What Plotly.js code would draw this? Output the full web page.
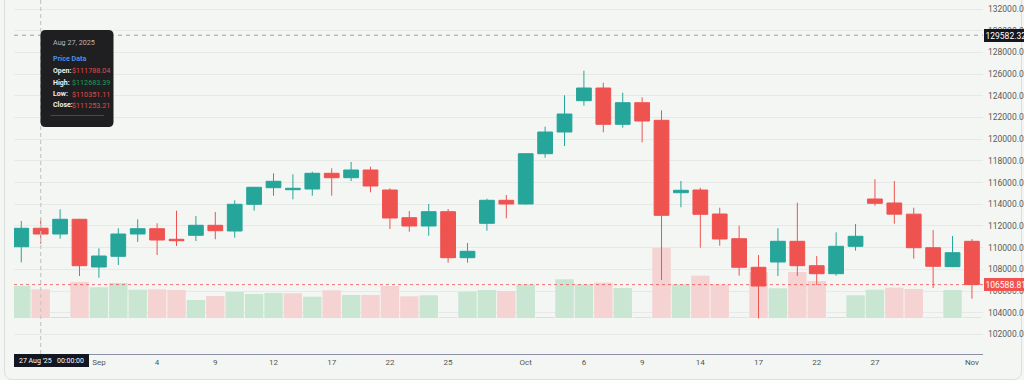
<!DOCTYPE html>
<html><head><meta charset="utf-8">
<script src="https://cdn.plot.ly/plotly-3.0.1.min.js"></script>
<style>
html,body{margin:0;padding:0;background:#f4f6f3;overflow:hidden;width:1024px;height:380px;}
#card{position:absolute;left:4px;top:-12px;width:1018px;height:392px;border:1px solid #dcdfdc;border-radius:8px;box-sizing:border-box;}
#chart{position:absolute;left:0;top:0;width:1024px;height:380px;}
</style></head><body>
<div id="card"></div>
<div id="chart"></div>
<script>
const dates = ['2025-08-26','2025-08-27','2025-08-28','2025-08-29',
'2025-09-01','2025-09-02','2025-09-03','2025-09-04','2025-09-05','2025-09-08','2025-09-09','2025-09-10','2025-09-11','2025-09-12',
'2025-09-15','2025-09-16','2025-09-17','2025-09-18','2025-09-19','2025-09-22','2025-09-23','2025-09-24','2025-09-25','2025-09-26',
'2025-09-29','2025-09-30','2025-10-01','2025-10-02','2025-10-03','2025-10-06','2025-10-07','2025-10-08','2025-10-09','2025-10-10',
'2025-10-13','2025-10-14','2025-10-15','2025-10-16','2025-10-17','2025-10-20','2025-10-21','2025-10-22','2025-10-23','2025-10-24',
'2025-10-27','2025-10-28','2025-10-29','2025-10-30','2025-10-31','2025-11-03'];
const open  = [110084,111788.04,111255,112610,108212,109199,111255,111744,110766,111135,112057,111532,113993,115524,115339,115404,116852,116446,117156,115312,112758,111993,113311,109070,112242,114362,114021,118659,120659,123545,124716,121369,123361,121738,115063,115312,113099,110822,108185,108673,110582,108332,107595,110121,114482,114113,113085,109992,108240,110582];
const high  = [112454,112683.39,113532,112650,109937,111781,112610,112242,113403,112915,113283,114362,115600,116852,116759,116999,117313,117893,117460,115469,113376,114021,113560,110425,114510,114851,118700,121148,124043,126311,125205,124283,123859,122660,116142,115524,113680,112020,109319,111781,114141,109227,111412,112177,116298,116142,113680,111624,111071,110794];
const low   = [108646,110351.11,110822,107383,107226,108397,110517,109319,110149,110610,110766,110914,113403,114786,114454,114786,114786,116142,115100,111716,111467,111098,108609,108609,111559,112703,113980,118290,119369,123084,120632,121056,119710,107014,113717,109992,110176,107410,103483,107383,107383,106553,107410,109715,113864,112205,108978,106276,108200,105290];
const close = [111781,111253.21,112610,108332,109227,111255,111744,110702,110637,112057,111559,113993,115561,116114,115469,116852,116446,117156,115681,112730,111993,113311,109070,109660,114362,114021,118659,120659,122319,124716,121369,123361,121674,112979,115284,113071,110794,108185,106461,110582,108332,107595,110121,111043,114086,113085,109992,108277,109531,106588.81];
const volume = [32000,28700,1000,36000,30700,35000,28300,28700,28000,18000,22000,26000,24000,25000,24700,21300,27700,23000,23000,32000,21700,22700,800,26300,28000,27000,33700,900,38700,33700,35300,30000,900,70300,33700,42300,33700,800,45700,29700,46000,37000,900,22700,28300,30300,29000,700,28000,800];
const tickDates = ['2025-09-01','2025-09-04','2025-09-09','2025-09-12','2025-09-17','2025-09-22','2025-09-25','2025-10-01','2025-10-06','2025-10-09','2025-10-14','2025-10-17','2025-10-22','2025-10-27','2025-11-03'];
const tickLabels = ['Sep','4','9','12','17','22','25','Oct','6','9','14','17','22','27','Nov'];
const crossPrice = 129582.32;
const crossIndex = 1;
const lastPrice = close[close.length-1];

const UP='#26a69a', DOWN='#ef5350';
const volColors = close.map((c,i)=> (i===0 || c>=close[i-1]) ? '#c8e6d1' : '#f6d3d3');

// pixel -> paper helpers (plot area x 14..983, y 0..354)
const PL=14, PR=983, PT=0, PB=354;
const px = x => (x-PL)/(PR-PL);
const py = y => (PB-y)/(PB-PT);
function roundRect(x0,y0,x1,y1,r){
  const P=(x,y)=>px(x)+','+py(y);
  return 'M'+P(x0+r,y0)+' L'+P(x1-r,y0)+' Q'+P(x1,y0)+' '+P(x1,y0+r)+
   ' L'+P(x1,y1-r)+' Q'+P(x1,y1)+' '+P(x1-r,y1)+' L'+P(x0+r,y1)+' Q'+P(x0,y1)+' '+P(x0,y1-r)+
   ' L'+P(x0,y0+r)+' Q'+P(x0,y0)+' '+P(x0+r,y0)+' Z';
}
const MON=['Jan','Feb','Mar','Apr','May','Jun','Jul','Aug','Sep','Oct','Nov','Dec'];
const cd = dates[crossIndex].split('-');
const headText = MON[+cd[1]-1]+' '+(+cd[2])+', '+cd[0];
const axisText = (+cd[2])+' '+MON[+cd[1]-1]+" '"+cd[0].slice(2)+'&nbsp;&nbsp;&nbsp;00:00:00';

const FONT='Roboto, "Liberation Sans", sans-serif';
const ann = [];
function tAnn(x,y,text,color,size,bold){
  ann.push({xref:'paper',yref:'paper',x:px(x),y:py(y),xanchor:'left',yanchor:'middle',showarrow:false,
    text: bold?'<b>'+text+'</b>':text, font:{family:FONT,size:size||7,color:color}});
}
tAnn(50.5,42.5,headText,'#b5b5b5',7.2);
tAnn(50.5,58,'Price Data','#4a8fe0',7.2,true);
const rows=[['Open:',open[crossIndex],'#e04a4a',70.5],['High:',high[crossIndex],'#1f9d55',82.5],['Low:',low[crossIndex],'#e04a4a',94.5],['Close:',close[crossIndex],'#e04a4a',105.5]];
rows.forEach(r=>{ tAnn(50.5,r[3],r[0],'#f0f0f0',7,true); tAnn(69.5,r[3],'$'+r[1].toFixed(2),r[2],7.2); });

ann.push({xref:'paper',yref:'paper',x:0,y:0,xanchor:'left',yanchor:'top',showarrow:false,
  text:axisText,font:{family:FONT,size:7,color:'#ffffff'},bgcolor:'#131722',borderpad:2,borderwidth:0,width:71,height:9});
ann.push({xref:'paper',yref:'y2',x:1,y:crossPrice,xanchor:'left',yanchor:'middle',xshift:1,showarrow:false,
  text:crossPrice.toFixed(2),font:{family:FONT,size:8.5,color:'#ffffff'},bgcolor:'#131722',borderpad:1.5,borderwidth:0});
ann.push({xref:'paper',yref:'y2',x:1,y:lastPrice,xanchor:'left',yanchor:'middle',xshift:1,showarrow:false,
  text:lastPrice.toFixed(2),font:{family:FONT,size:8.5,color:'#ffffff'},bgcolor:'#ef5350',borderpad:1.5,borderwidth:0});

const shapes = [
  {type:'line',xref:'x',yref:'paper',x0:dates[crossIndex],x1:dates[crossIndex],y0:-0.02,y1:1,line:{color:'#c6c9c6',width:1.2,dash:'4px,3px'}},
  {type:'line',xref:'paper',yref:'y2',x0:0,x1:1,y0:crossPrice,y1:crossPrice,line:{color:'#9da09d',width:1,dash:'4px,4px'}},
  {type:'line',xref:'paper',yref:'y2',x0:0,x1:1,y0:lastPrice,y1:lastPrice,line:{color:'#ef5350',width:1,dash:'dot'},opacity:0.8},
  {type:'path',xref:'paper',yref:'paper',path:roundRect(40.5,30,113.5,127,5),fillcolor:'rgba(22,22,24,0.96)',line:{width:0}},
  {type:'line',xref:'paper',yref:'paper',x0:px(50.5),x1:px(104),y0:py(115.5),y1:py(115.5),line:{color:'#4a4a4a',width:1}}
];

const traces = [
  {type:'bar',x:dates,y:volume,xaxis:'x',yaxis:'y',marker:{color:volColors,line:{width:0}},hoverinfo:'skip'},
  {type:'candlestick',x:dates,open:open,high:high,low:low,close:close,xaxis:'x',yaxis:'y2',whiskerwidth:0,
   increasing:{line:{color:UP,width:1},fillcolor:UP},decreasing:{line:{color:DOWN,width:1},fillcolor:DOWN},hoverinfo:'skip'}
];

const layout = {
  width:1024,height:380,margin:{l:14,r:41,t:0,b:26,pad:0},
  paper_bgcolor:'rgba(0,0,0,0)',plot_bgcolor:'rgba(0,0,0,0)',
  showlegend:false,hovermode:false,dragmode:false,
  bargap:0.05,boxgap:0.24,boxgroupgap:0,
  font:{family:FONT,size:8,color:'#555'},
  xaxis:{type:'category',range:[-0.376,49.57],tickmode:'array',tickvals:tickDates,ticktext:tickLabels,
    showgrid:false,showline:true,linecolor:'#8d8fa6',linewidth:1,ticks:'',zeroline:false,
    rangeslider:{visible:false},tickfont:{family:FONT,size:8,color:'#555'},fixedrange:true},
  yaxis:{domain:[0,1],range:[-36000,318000],visible:false,fixedrange:true,showgrid:false,zeroline:false},
  yaxis2:{overlaying:'y',side:'right',range:[100191,132830],tickmode:'linear',tick0:0,dtick:2000,tickformat:'.2f',
    showgrid:true,gridcolor:'#e6e9e6',gridwidth:1,zeroline:false,showline:false,ticks:'',
    tickfont:{family:FONT,size:8.5,color:'#5a5a5a'},ticklabelstandoff:4,fixedrange:true},
  shapes:shapes,annotations:ann
};
Plotly.newPlot('chart',traces,layout,{displayModeBar:false,staticPlot:true});
</script></body></html>
